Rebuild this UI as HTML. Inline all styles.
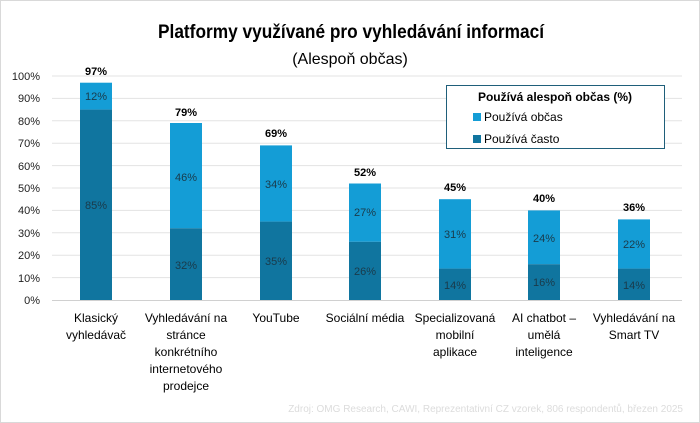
<!DOCTYPE html>
<html><head><meta charset="utf-8"><style>
body{margin:0;background:#fff;}
svg{display:block;font-family:"Liberation Sans",sans-serif;}
</style></head><body>
<svg width="700" height="423" viewBox="0 0 700 423">
<rect x="0.5" y="0.5" width="699" height="422" fill="#fff" stroke="#d9d9d9"/>
<text x="158" y="38" font-size="19" font-weight="bold" fill="#000" textLength="386" lengthAdjust="spacingAndGlyphs">Platformy využívané pro vyhledávání informací</text>
<text x="350" y="64" text-anchor="middle" font-size="16" fill="#000">(Alespoň občas)</text>
<g stroke="#e3e3e3" stroke-width="1">
<line x1="52" x2="682" y1="76" y2="76"/><line x1="52" x2="682" y1="98.4" y2="98.4"/><line x1="52" x2="682" y1="120.8" y2="120.8"/><line x1="52" x2="682" y1="143.2" y2="143.2"/><line x1="52" x2="682" y1="165.6" y2="165.6"/><line x1="52" x2="682" y1="188" y2="188"/><line x1="52" x2="682" y1="210.4" y2="210.4"/><line x1="52" x2="682" y1="232.8" y2="232.8"/><line x1="52" x2="682" y1="255.2" y2="255.2"/><line x1="52" x2="682" y1="277.6" y2="277.6"/></g>
<line x1="52" x2="682" y1="300.5" y2="300.5" stroke="#d0d0d0"/>
<g font-size="11" fill="#222" text-anchor="end">
<text x="40" y="80">100%</text><text x="40" y="102">90%</text><text x="40" y="125">80%</text><text x="40" y="147">70%</text><text x="40" y="170">60%</text><text x="40" y="192">50%</text><text x="40" y="214">40%</text><text x="40" y="237">30%</text><text x="40" y="259">20%</text><text x="40" y="282">10%</text><text x="40" y="304">0%</text></g>
<g font-size="11" text-anchor="middle">
<rect x="80" y="82.7" width="32" height="26.9" fill="#149dd6"/><rect x="80" y="109.6" width="32" height="190.4" fill="#10759f"/>
<text x="96" y="75" font-weight="bold">97%</text><text x="96" y="100" fill="#1a3a4a">12%</text><text x="96" y="209" fill="#1a3a4a">85%</text>
<rect x="170" y="123" width="32" height="105.3" fill="#149dd6"/><rect x="170" y="228.3" width="32" height="71.7" fill="#10759f"/>
<text x="186" y="116" font-weight="bold">79%</text><text x="186" y="181" fill="#1a3a4a">46%</text><text x="186" y="269" fill="#1a3a4a">32%</text>
<rect x="260" y="145.4" width="32" height="76.2" fill="#149dd6"/><rect x="260" y="221.6" width="32" height="78.4" fill="#10759f"/>
<text x="276" y="137" font-weight="bold">69%</text><text x="276" y="188" fill="#1a3a4a">34%</text><text x="276" y="265" fill="#1a3a4a">35%</text>
<rect x="349" y="183.5" width="32" height="58.3" fill="#149dd6"/><rect x="349" y="241.8" width="32" height="58.2" fill="#10759f"/>
<text x="365" y="176" font-weight="bold">52%</text><text x="365" y="216" fill="#1a3a4a">27%</text><text x="365" y="275" fill="#1a3a4a">26%</text>
<rect x="439" y="199.2" width="32" height="69.4" fill="#149dd6"/><rect x="439" y="268.6" width="32" height="31.4" fill="#10759f"/>
<text x="455" y="191" font-weight="bold">45%</text><text x="455" y="238" fill="#1a3a4a">31%</text><text x="455" y="289" fill="#1a3a4a">14%</text>
<rect x="528" y="210.4" width="32" height="53.8" fill="#149dd6"/><rect x="528" y="264.2" width="32" height="35.8" fill="#10759f"/>
<text x="544" y="202" font-weight="bold">40%</text><text x="544" y="242" fill="#1a3a4a">24%</text><text x="544" y="286" fill="#1a3a4a">16%</text>
<rect x="618" y="219.4" width="32" height="49.2" fill="#149dd6"/><rect x="618" y="268.6" width="32" height="31.4" fill="#10759f"/>
<text x="634" y="211" font-weight="bold">36%</text><text x="634" y="248" fill="#1a3a4a">22%</text><text x="634" y="289" fill="#1a3a4a">14%</text>
</g>
<g font-size="12" text-anchor="middle" fill="#000">
<text x="96" y="322">Klasický</text><text x="96" y="339">vyhledávač</text>
<text x="186" y="322">Vyhledávání na</text><text x="186" y="339">stránce</text><text x="186" y="356">konkrétního</text><text x="186" y="373">internetového</text><text x="186" y="390">prodejce</text>
<text x="276" y="322">YouTube</text>
<text x="365" y="322">Sociální média</text>
<text x="455" y="322">Specializovaná</text><text x="455" y="339">mobilní</text><text x="455" y="356">aplikace</text>
<text x="544" y="322">AI chatbot –</text><text x="544" y="339">umělá</text><text x="544" y="356">inteligence</text>
<text x="634" y="322">Vyhledávání na</text><text x="634" y="339">Smart TV</text>
</g>
<rect x="446.5" y="85.5" width="218" height="63" fill="#fff" stroke="#1f5f7a"/>
<text x="555" y="101" text-anchor="middle" font-size="12" font-weight="bold">Používá alespoň občas (%)</text>
<rect x="473" y="113" width="8" height="8" fill="#149dd6"/><text x="484" y="121" font-size="12">Používá občas</text>
<rect x="473" y="135" width="8" height="8" fill="#10759f"/><text x="484" y="143" font-size="12">Používá často</text>
<text x="683" y="412" text-anchor="end" font-size="10" fill="#dcdcdc">Zdroj: OMG Research, CAWI, Reprezentativní CZ vzorek, 806 respondentů, březen 2025</text>
</svg>
</body></html>
